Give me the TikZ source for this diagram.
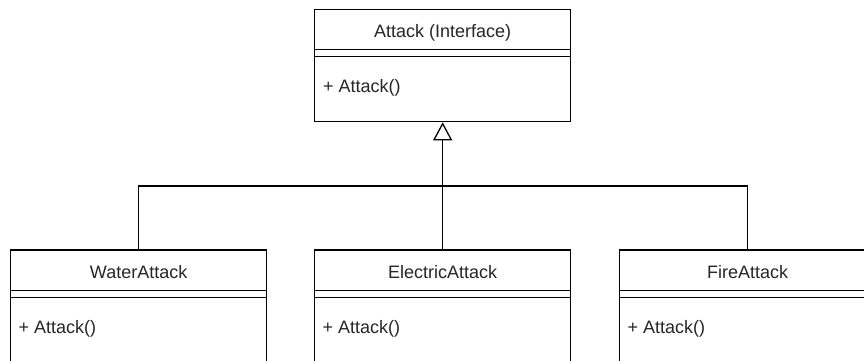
\documentclass[tikz,border=0pt]{standalone}
\usepackage{fontspec}
\setmainfont{Liberation Sans}
\usetikzlibrary{arrows.meta,calc}
\begin{document}
\begin{tikzpicture}[x=1pt,y=-1pt,
  box/.style={draw=black,line width=1.3pt,rectangle,minimum width=256pt,inner sep=0pt,anchor=north west},
  sepline/.style={draw=black,line width=1.3pt},
  txt/.style={inner sep=0pt,text=black!85,font=\fontsize{18}{21}\selectfont},
  conn/.style={draw=black,line width=1.3pt}]
\useasboundingbox (0,0) rectangle (864,361);
\clip (0,0) rectangle (864,361);
\fill[white] (0,0) rectangle (864,361);
% top box
\node[box,minimum height=112pt] (attack) at (314,9) {};
\node[txt,anchor=base] (attackT) at ($(attack.north)+(0,28.3)$) {Attack (Interface)};
\node[txt,anchor=base west] (attackM) at ($(attack.north west)+(9,83.7)$) {+ Attack()};
\draw[sepline] ([yshift=-40.3pt]attack.north west) -- ([yshift=-40.3pt]attack.north east);
\draw[sepline] ([yshift=-47.7pt]attack.north west) -- ([yshift=-47.7pt]attack.north east);
% bottom boxes
\foreach \nm/\lab/\xx in {water/WaterAttack/10, electric/ElectricAttack/314, fire/FireAttack/619}{
  \node[box,minimum height=140pt] (\nm) at (\xx,249.3) {};
  \node[txt,anchor=base] (\nm T) at ($(\nm.north)+(0,29)$) {\lab};
  \node[txt,anchor=base west] (\nm M) at ($(\nm.north west)+(8.5,84)$) {+ Attack()};
  \draw[sepline] ([yshift=-41.4pt]\nm.north west) -- ([yshift=-41.4pt]\nm.north east);
  \draw[sepline] ([yshift=-48pt]\nm.north west) -- ([yshift=-48pt]\nm.north east);
}
% connectors
\coordinate (j) at ($(electric.north)+(0,-63.3)$);
\draw[conn] (water.north) |- (j) -| (fire.north);
\draw[conn,-{Triangle[open,length=18pt,width=19pt,line width=1.3pt]}] (electric.north) -- (attack.south);
\end{tikzpicture}
\end{document}
